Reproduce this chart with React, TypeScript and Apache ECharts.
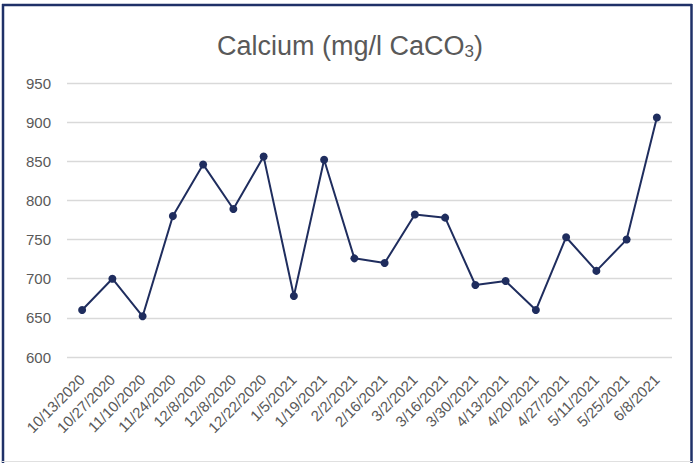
import React, { useEffect, useRef } from "react";
import * as echarts from "echarts";

const categories = [
  "10/13/2020", "10/27/2020", "11/10/2020", "11/24/2020", "12/8/2020",
  "12/8/2020", "12/22/2020", "1/5/2021", "1/19/2021", "2/2/2021",
  "2/16/2021", "3/2/2021", "3/16/2021", "3/30/2021", "4/13/2021",
  "4/20/2021", "4/27/2021", "5/11/2021", "5/25/2021", "6/8/2021",
];
const calcium = [
  660, 700, 652, 780, 846, 789, 856, 678, 852, 726,
  720, 782, 778, 692, 697, 660, 753, 710, 750, 906,
];
const yMin = 600;
const yMax = 950;
const yStep = 50;

export default function App() {
  const ref = useRef<HTMLDivElement>(null);
  useEffect(() => {
    if (!ref.current) return;
    const chart = echarts.init(ref.current, undefined, { renderer: "svg" });
    chart.setOption({
      animation: false,
      backgroundColor: "#ffffff",
      title: {
        text: "Calcium (mg/l CaCO{sub|3})",
        left: 345,
        top: 26,
        textAlign: "center",
        textStyle: {
          fontFamily: "Liberation Sans",
          fontSize: 27,
          fontWeight: "normal",
          color: "#595959",
          rich: {
            sub: {
              fontFamily: "Liberation Sans",
              fontSize: 17,
              color: "#595959",
              verticalAlign: "bottom",
              padding: [12, 0, 0, 0],
            },
          },
        },
      },
      graphic: [
        { type: "line", shape: { x1: 2, y1: 5, x2: 692, y2: 5 }, style: { stroke: "#1F3168", lineWidth: 2.5 } },
        { type: "line", shape: { x1: 3, y1: 4, x2: 3, y2: 463 }, style: { stroke: "#1F3168", lineWidth: 2.5 } },
        { type: "line", shape: { x1: 691.5, y1: 4, x2: 691.5, y2: 463 }, style: { stroke: "#1F3168", lineWidth: 2.5 } },
        { type: "line", shape: { x1: 2, y1: 461.5, x2: 692, y2: 461.5 }, style: { stroke: "#e0e0e0", lineWidth: 1 } },
      ],
      grid: { left: 67, right: 22, top: 83, bottom: 107, containLabel: false },
      xAxis: {
        type: "category",
        data: categories,
        boundaryGap: true,
        axisLine: { show: false },
        axisTick: { show: false },
        axisLabel: {
          rotate: 45,
          interval: 0,
          margin: 20,
          fontFamily: "Liberation Sans",
          fontSize: 15,
          color: "#595959",
        },
      },
      yAxis: {
        type: "value",
        min: yMin,
        max: yMax,
        interval: yStep,
        axisLine: { show: false },
        axisTick: { show: false },
        splitLine: { lineStyle: { color: "#d9d9d9", width: 1.3 } },
        axisLabel: {
          margin: 16,
          fontFamily: "Liberation Sans",
          fontSize: 15,
          color: "#595959",
        },
      },
      series: [
        {
          type: "line",
          data: calcium,
          symbol: "circle",
          symbolSize: 8,
          lineStyle: { color: "#1F2D5E", width: 2 },
          itemStyle: { color: "#1F2D5E" },
        },
      ],
    });
    return () => chart.dispose();
  }, []);
  return <div ref={ref} style={{ width: 694, height: 464, position: "fixed", left: 0, top: 0 }} />;
}
